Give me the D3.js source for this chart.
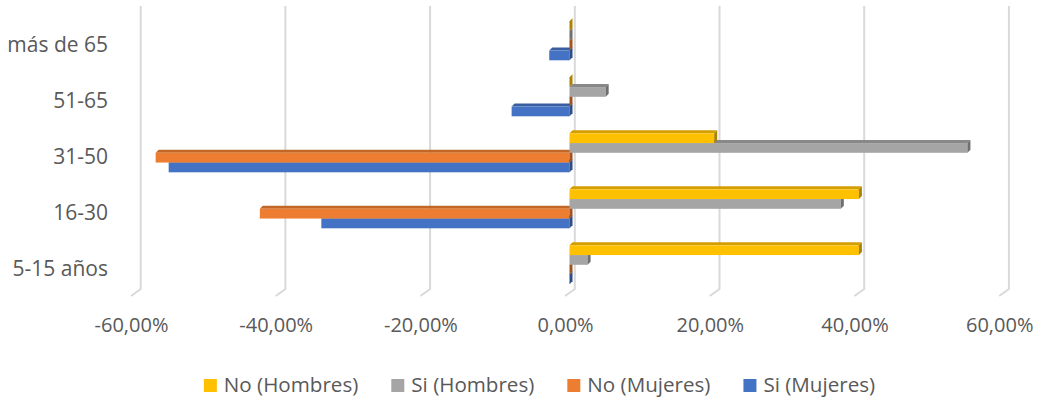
<!DOCTYPE html>
<html>
<head>
<meta charset="utf-8">
<script src="https://cdn.jsdelivr.net/npm/d3@7"></script>
<style>
  html, body { margin: 0; padding: 0; background: #ffffff; }
  svg { display: block; }
  text { font-family: "Open Sans", "Liberation Sans", sans-serif; fill: #595959; }
</style>
</head>
<body>
<svg id="chart" width="1038" height="398"></svg>
<script>
// ---- Data ----
const categories = ["más de 65", "51-65", "31-50", "16-30", "5-15 años"];
const seriesNames = ["No (Hombres)", "Si (Hombres)", "No (Mujeres)", "Si (Mujeres)"];
const noHombres = [0, 0, 20, 40, 40];
const siHombres = [0, 5, 55, 37.5, 2.5];
const noMujeres = [0, 0, -57.2, -42.8, 0];
const siMujeres = [-2.8, -8.0, -55.4, -34.3, 0];
const tickValues = [-60, -40, -20, 0, 20, 40, 60];
const colors = ["#FFC000", "#A5A5A5", "#ED7D31", "#4472C4"];

const seriesValues = [noHombres, siHombres, noMujeres, siMujeres];

// ---- Layout ----
const svg = d3.select("#chart");
const x = d3.scaleLinear().domain([-60, 60]).range([135.4, 1003.6]);
const y = d3.scaleBand().domain(categories).range([12.8, 292.8])
  .paddingInner(0.3036).paddingOuter(0.1518);
const ys = d3.scaleBand().domain(seriesNames).range([0, y.bandwidth()]).padding(0);

const backDX = 5.3, wallTop = 6, wallBottom = 289;
const floorDX = -9.7, floorDY = 7;
const depthX = 3, depthY = -3;

// ---- Gridlines (back wall + floor) ----
const grid = svg.append("g").attr("fill", "none").attr("stroke", "#d9d9d9").attr("stroke-width", 2);
grid.selectAll("path").data(tickValues).join("path")
  .attr("d", v => {
    const bx = x(v) + backDX;
    return `M${bx},${wallTop}L${bx},${wallBottom}L${bx + floorDX},${wallBottom + floorDY}`;
  });

// ---- Bars (3D style) ----
const barsG = svg.append("g");
const faces = [];
categories.forEach((c, ci) => {
  for (let si = seriesNames.length - 1; si >= 0; si--) {
    faces.push({ cat: c, s: seriesNames[si], si, v: seriesValues[si][ci] });
  }
});
const bar = barsG.selectAll("g.bar").data(faces).join("g").attr("class", "bar");
bar.each(function(d) {
  const g = d3.select(this);
  const x0 = x(Math.min(0, d.v)), x1 = x(Math.max(0, d.v));
  const y0 = y(d.cat) + ys(d.s), y1 = y0 + ys.bandwidth();
  const base = d3.color(colors[d.si]);
  g.append("path")
    .attr("d", `M${x0},${y0}L${x1},${y0}L${x1 + depthX},${y0 + depthY}L${x0 + depthX},${y0 + depthY}Z`)
    .attr("fill", base.darker(0.55).formatHex());
  g.append("rect").attr("x", x0).attr("y", y0).attr("width", x1 - x0).attr("height", y1 - y0)
    .attr("fill", base.formatHex());
  g.append("path")
    .attr("d", `M${x1},${y0}L${x1 + depthX},${y0 + depthY}L${x1 + depthX},${y1 + depthY}L${x1},${y1}Z`)
    .attr("fill", base.darker(1.1).formatHex());
});

// ---- Axes ----
const fmt = v => v.toFixed(2).replace(".", ",") + "%";
const xAxis = svg.append("g")
  .attr("transform", `translate(${backDX + floorDX},317.3)`)
  .call(d3.axisBottom(x).tickValues(tickValues).tickFormat(fmt).tickSize(0).tickPadding(0));
xAxis.select(".domain").remove();
xAxis.selectAll("text").attr("font-size", 20).attr("font-family", "Open Sans").attr("fill", "#595959");

const yAxis = svg.append("g")
  .attr("transform", `translate(108,4.5)`)
  .call(d3.axisLeft(y).tickSize(0).tickPadding(0));
yAxis.select(".domain").remove();
yAxis.selectAll("text").attr("font-size", 21).attr("font-family", "Open Sans").attr("fill", "#595959");

// ---- Legend ----
const legend = svg.append("g");
const items = legend.selectAll("g").data(seriesNames).join("g");
items.append("rect").attr("width", 13).attr("height", 13).attr("y", 379)
  .attr("fill", (d, i) => colors[i]);
items.append("text").attr("x", 20).attr("y", 392.3).attr("font-size", 20.6).text(d => d);
const widths = [];
items.each(function() {
  const w = d3.select(this).select("text").node().getComputedTextLength();
  widths.push(20 + w);
});
const gap = 33;
const total = d3.sum(widths) + gap * (widths.length - 1);
let start = 539.5 - total / 2;
items.attr("transform", (d, i) => {
  const t = `translate(${start},0)`;
  start += widths[i] + gap;
  return t;
});
</script>
</body>
</html>
